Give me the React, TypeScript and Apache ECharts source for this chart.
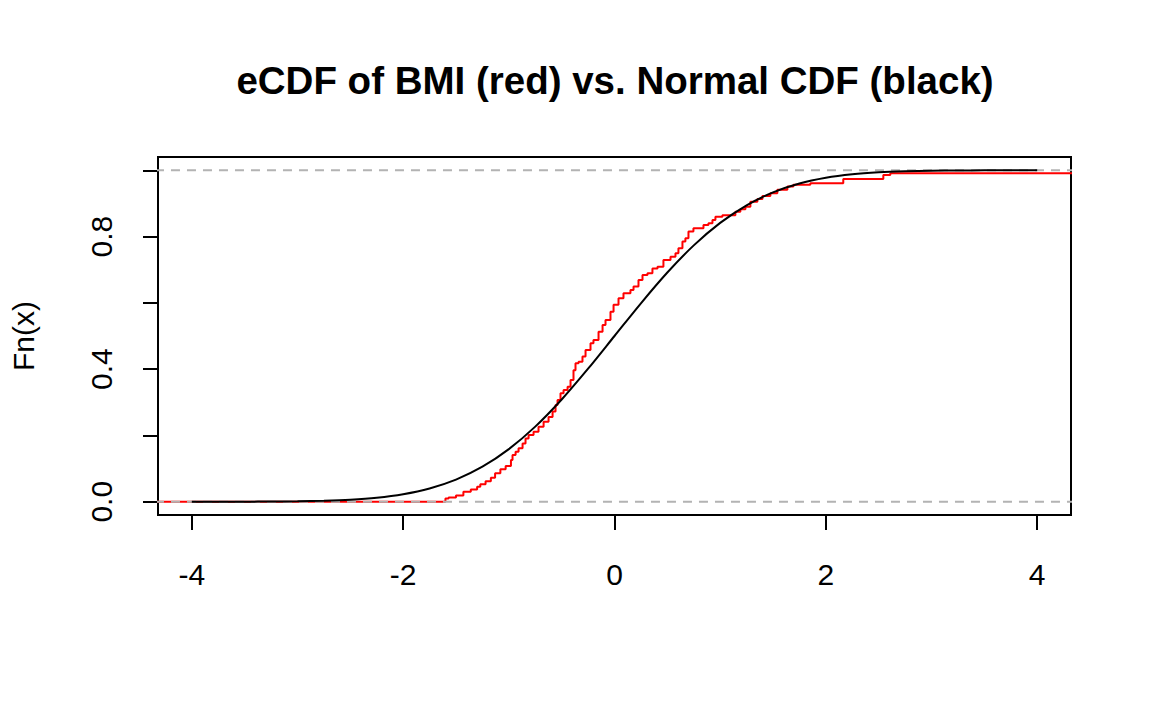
import React, { useEffect, useRef } from "react";
import * as echarts from "echarts";

// eCDF of BMI (standardised): jump location and level after the jump
const ecdfX = [
  -4.5, -1.6, -1.57, -1.5, -1.43, -1.36, -1.3, -1.27, -1.22, -1.17, -1.13, -1.08, -1.03, -0.98,
  -0.965, -0.936, -0.908, -0.87, -0.842, -0.813, -0.766, -0.719, -0.671, -0.624, -0.586, -0.558,
  -0.539, -0.511, -0.482, -0.444, -0.416, -0.388, -0.369, -0.34, -0.303, -0.274, -0.227, -0.199,
  -0.151, -0.113, -0.085, -0.038, -0.009, 0.038, 0.085, 0.151, 0.18, 0.227, 0.265, 0.312, 0.359,
  0.407, 0.463, 0.53, 0.577, 0.605, 0.643, 0.671, 0.7, 0.747, 0.842, 0.889, 0.927, 0.955, 1.021,
  1.144, 1.191, 1.239, 1.286, 1.352, 1.4, 1.475, 1.541, 1.636, 1.693, 1.853, 2.165, 2.544, 2.61, 4.5,
];
const ecdfY = [
  0, 0.01, 0.013, 0.019, 0.03, 0.037, 0.045, 0.053, 0.062, 0.072, 0.086, 0.098, 0.108, 0.126,
  0.141, 0.151, 0.161, 0.176, 0.191, 0.201, 0.211, 0.226, 0.241, 0.256, 0.272, 0.292,
  0.307, 0.327, 0.337, 0.347, 0.367, 0.397, 0.418, 0.422, 0.438, 0.458, 0.478, 0.488,
  0.513, 0.533, 0.548, 0.573, 0.594, 0.614, 0.629, 0.639, 0.649, 0.669, 0.684, 0.689, 0.704,
  0.709, 0.729, 0.739, 0.75, 0.765, 0.785, 0.795, 0.815, 0.825, 0.835, 0.84, 0.85, 0.86, 0.864,
  0.875, 0.882, 0.89, 0.905, 0.913, 0.922, 0.931, 0.941, 0.951, 0.956, 0.961, 0.974, 0.986, 0.991, 0.991,
];

// Normal CDF curve (black)
const normX = [
  -4, -3.75, -3.5, -3.25, -3, -2.75, -2.5, -2.25, -2, -1.75, -1.5, -1.25, -1, -0.75, -0.5, -0.25, 0,
  0.25, 0.5, 0.75, 1, 1.25, 1.5, 1.75, 2, 2.25, 2.5, 2.75, 3, 3.25, 3.5, 3.75, 4,
];
const normY = [
  0.00003, 0.00009, 0.0002, 0.0006, 0.0013, 0.003, 0.0062, 0.0122, 0.0228, 0.0401, 0.0668, 0.1056,
  0.1587, 0.2266, 0.3085, 0.4013, 0.5, 0.5987, 0.6915, 0.7734, 0.8413, 0.8944, 0.9332, 0.9599,
  0.9772, 0.9878, 0.9938, 0.997, 0.9987, 0.9994, 0.9998, 0.9999, 1.0,
];

const refLevels = [0, 1];
const xTicks = [-4, -2, 0, 2, 4];
const yTicks = [0, 0.2, 0.4, 0.6, 0.8, 1];
const yLabels = [0, 0.4, 0.8];

const FONT = "Liberation Sans, Arial, Helvetica, sans-serif";

export default function App() {
  const ref = useRef<HTMLDivElement>(null);
  useEffect(() => {
    if (!ref.current) return;
    const chart = echarts.init(ref.current, null, { renderer: "svg" });
    const refSeries = refLevels.map((lv) => ({
      type: "line",
      data: [
        [-4.5, lv],
        [4.5, lv],
      ],
      symbol: "none",
      silent: true,
      lineStyle: { color: "#b3b3b3", width: 2, type: [9, 7] },
      z: 3,
    }));
    chart.setOption({
      animation: false,
      backgroundColor: "#ffffff",
      title: {
        text: "eCDF of BMI (red) vs. Normal CDF (black)",
        left: 610,
        top: 56,
        textAlign: "center",
        textStyle: { fontFamily: FONT, fontSize: 38.5, fontWeight: "bold", color: "#000" },
      },
      grid: {
        left: 157,
        right: 81,
        top: 157,
        bottom: 196,
        show: true,
        borderColor: "#000",
        borderWidth: 2,
        backgroundColor: "transparent",
      },
      xAxis: {
        type: "value",
        min: -4.32,
        max: 4.32,
        axisLine: { show: false, onZero: false },
        splitLine: { show: false },
        axisTick: {
          show: true,
          customValues: xTicks,
          length: 15,
          lineStyle: { color: "#000", width: 2 },
        },
        axisLabel: {
          customValues: xTicks,
          fontFamily: FONT,
          fontSize: 30,
          color: "#000",
          margin: 44,
          formatter: (v: number) => String(v),
        },
      },
      yAxis: {
        type: "value",
        min: -0.04,
        max: 1.04,
        name: "Fn(x)",
        nameLocation: "middle",
        nameRotate: 90,
        nameGap: 120,
        nameTextStyle: { fontFamily: FONT, fontSize: 30, color: "#000" },
        axisLine: { show: false, onZero: false },
        splitLine: { show: false },
        axisTick: {
          show: true,
          customValues: yTicks,
          length: 15,
          lineStyle: { color: "#000", width: 2 },
        },
        axisLabel: {
          customValues: yLabels,
          rotate: 90,
          fontFamily: FONT,
          fontSize: 30,
          color: "#000",
          margin: 42,
          formatter: (v: number) => v.toFixed(1),
        },
      },
      series: [
        {
          type: "line",
          step: "end",
          data: ecdfX.map((x, i) => [x, ecdfY[i]]),
          symbol: "none",
          lineStyle: { color: "#ff0000", width: 2 },
          z: 2,
        },
        ...refSeries,
        {
          type: "line",
          data: normX.map((x, i) => [x, normY[i]]),
          symbol: "none",
          smooth: 0.3,
          lineStyle: { color: "#000000", width: 2 },
          z: 4,
        },
      ],
    });
    return () => chart.dispose();
  }, []);
  return (
    <div
      ref={ref}
      style={{ position: "absolute", left: 0, top: 0, width: 1152, height: 711 }}
    />
  );
}
